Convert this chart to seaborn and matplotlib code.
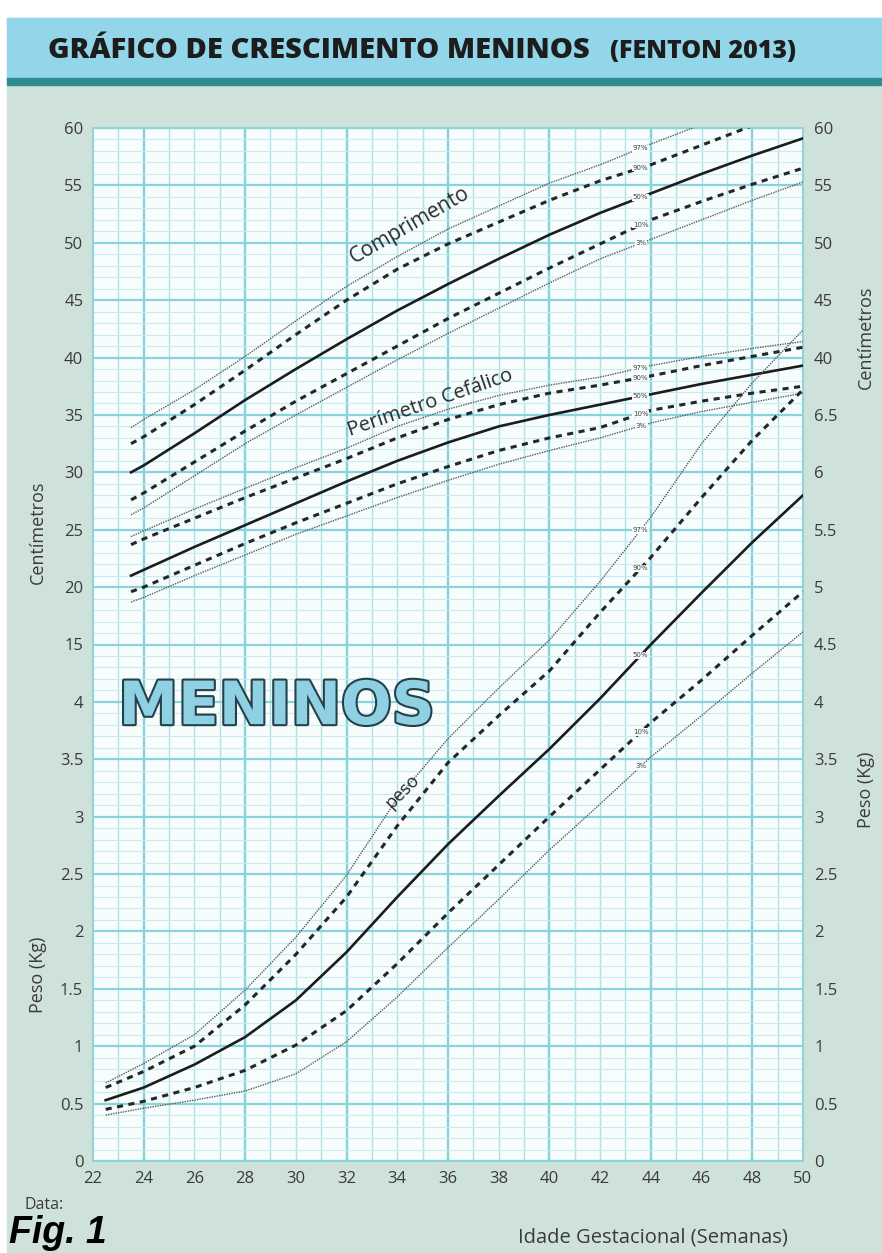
import numpy as np
import pandas as pd
import seaborn as sns
import matplotlib.pyplot as plt
import matplotlib.patheffects as pe
from matplotlib.patches import Rectangle

# Values (boys)

semanas_cc = [23.5, 24, 26, 28, 30, 32, 34, 36, 38, 40, 42, 44, 46, 48, 50]
comp_97 = [33.9, 34.6, 37.2, 40.1, 43.2, 46.2, 48.8, 51.2, 53.2, 55.2, 56.8, 58.6, 60.3, 61.8, 63.2]
comp_90 = [32.5, 33.1, 35.9, 38.9, 42.0, 45.0, 47.7, 49.9, 51.8, 53.7, 55.4, 56.8, 58.5, 60.2, 61.8]
comp_50 = [30.0, 30.6, 33.4, 36.3, 39.0, 41.6, 44.1, 46.4, 48.6, 50.7, 52.6, 54.3, 56.0, 57.6, 59.1]
comp_10 = [27.6, 28.2, 30.9, 33.6, 36.2, 38.6, 41.0, 43.4, 45.6, 47.8, 49.9, 52.0, 53.6, 55.1, 56.5]
comp_3 = [26.3, 26.9, 29.7, 32.5, 35.0, 37.4, 39.8, 42.1, 44.3, 46.5, 48.6, 50.3, 52.0, 53.7, 55.3]

pc_97 = [24.4, 24.9, 26.8, 28.6, 30.4, 32.1, 34.0, 35.5, 36.7, 37.6, 38.3, 39.3, 40.1, 40.8, 41.4]
pc_90 = [23.7, 24.2, 26.0, 27.8, 29.5, 31.2, 33.0, 34.6, 35.9, 36.9, 37.6, 38.4, 39.3, 40.1, 40.9]
pc_50 = [21.0, 21.5, 23.5, 25.4, 27.3, 29.2, 31.0, 32.6, 34.0, 35.0, 35.9, 36.8, 37.7, 38.5, 39.3]
pc_10 = [19.6, 20.0, 21.9, 23.8, 25.6, 27.3, 29.0, 30.5, 31.9, 33.0, 33.9, 35.4, 36.2, 36.9, 37.5]
pc_3 = [18.7, 19.1, 21.0, 22.8, 24.6, 26.2, 27.8, 29.3, 30.7, 31.9, 33.0, 34.3, 35.3, 36.1, 36.9]

semanas_peso = [22.5, 24, 26, 28, 30, 32, 34, 36, 38, 40, 42, 44, 46, 48, 50]
peso_97 = [0.68, 0.85, 1.10, 1.49, 1.95, 2.49, 3.16, 3.68, 4.12, 4.54, 5.05, 5.61, 6.25, 6.78, 7.24]
peso_90 = [0.64, 0.78, 1.00, 1.36, 1.80, 2.30, 2.92, 3.47, 3.88, 4.27, 4.78, 5.26, 5.78, 6.28, 6.72]
peso_50 = [0.53, 0.64, 0.84, 1.08, 1.40, 1.82, 2.30, 2.76, 3.18, 3.59, 4.03, 4.50, 4.95, 5.39, 5.80]
peso_10 = [0.45, 0.52, 0.64, 0.79, 1.01, 1.31, 1.72, 2.16, 2.58, 3.00, 3.41, 3.82, 4.19, 4.58, 4.96]
peso_3 = [0.40, 0.46, 0.53, 0.61, 0.76, 1.04, 1.43, 1.86, 2.28, 2.71, 3.11, 3.52, 3.88, 4.25, 4.61]

percentis = ['97%', '90%', '50%', '10%', '3%']

x_ticks = list(range(22, 51, 2))
y_labels_esq = ['0', '0.5', '1', '1.5', '2', '2.5', '3', '3.5', '4',
                '15', '20', '25', '30', '35', '40', '45', '50', '55', '60']
y_labels_dir = ['0', '0.5', '1', '1.5', '2', '2.5', '3', '3.5', '4', '4.5',
                '5', '5.5', '6', '6.5', '40', '45', '50', '55', '60']


# one shared grid on the chart: kg*2 below, (cm/5 + 6) above
def cm_para_u(v):
    return np.array(v) / 5 + 6


def kg_para_u(v):
    return np.array(v) * 2


def tabela(semanas, series, conv):
    partes = []
    for p, vals in zip(percentis, series):
        partes.append(pd.DataFrame({'semana': semanas, 'u': conv(vals), 'pct': p}))
    return pd.concat(partes, ignore_index=True)


grupos = [(semanas_cc, [comp_97, comp_90, comp_50, comp_10, comp_3], cm_para_u),
          (semanas_cc, [pc_97, pc_90, pc_50, pc_10, pc_3], cm_para_u),
          (semanas_peso, [peso_97, peso_90, peso_50, peso_10, peso_3], kg_para_u)]

cores = {'97%': '#5a5a5a', '90%': '#262626', '50%': '#1c1c1c', '10%': '#262626', '3%': '#5a5a5a'}
larguras = {'97%': 1.0, '90%': 2.2, '50%': 1.9, '10%': 2.2, '3%': 1.0}
tracos = {'97%': (1, 0.8), '90%': (2, 1.8), '50%': '', '10%': (2, 1.8), '3%': (1, 0.8)}

fonte = 'Open Sans'
cinza = '#3a3a3a'

fig = plt.figure(figsize=(8.82, 12.53), dpi=100)
fig.patch.set_facecolor('white')
W, H = 882, 1253

# background and title banner
fig.add_artist(Rectangle((7 / W, 0), 1, 1 - 18 / H, transform=fig.transFigure,
                         color='#cfe2da', zorder=-10))
fig.add_artist(Rectangle((7 / W, 1 - 78 / H), 1, 60 / H, transform=fig.transFigure,
                         color='#93d5e9', zorder=-9))
fig.add_artist(Rectangle((7 / W, 1 - 85 / H), 1, 7 / H, transform=fig.transFigure,
                         color='#2e8d8f', zorder=-9))

ax = fig.add_axes([93 / W, 1 - 1161 / H, 710 / W, 1033 / H])
ax.set_facecolor('#f7fcfc')

# grid paper
for w in range(23, 50):
    grossa = (w % 4 == 0)
    ax.axvline(w, color='#84d2dc' if grossa else '#b0e0e8', lw=1.7 if grossa else 1.0, zorder=0)
for k in range(0, 91):
    v = k / 5
    if k % 5 == 0:
        ax.axhline(v, color='#8ad3dd', lw=1.6, zorder=0)
    else:
        ax.axhline(v, color='#c8eaf0', lw=0.8, zorder=0)

for semanas, series, conv in grupos:
    df = tabela(semanas, series, conv)
    sns.lineplot(data=df, x='semana', y='u', hue='pct', size='pct', style='pct',
                 palette=cores, sizes=larguras, dashes=tracos, legend=False, ax=ax, zorder=3)

# percentile labels sitting on the curves
x_rot = 43.6
for semanas, series, conv in grupos:
    for p, vals in zip(percentis, series):
        yv = np.interp(x_rot, semanas, conv(vals))
        if yv < 18:
            ax.text(x_rot, yv, p, fontsize=5, color='#444444', ha='center', va='center', zorder=5,
                    bbox=dict(fc='#f7fcfc', ec='none', pad=0.4))

ax.text(34.5, 16.3, 'Comprimento', family=fonte, fontsize=15, color='#2a2a2a',
        rotation=30, ha='center', va='center', rotation_mode='anchor')
ax.text(35.3, 13.2, 'Perímetro Cefálico', family=fonte, fontsize=14.5, color='#2a2a2a',
        rotation=19, ha='center', va='center', rotation_mode='anchor')
ax.text(34.2, 6.45, 'peso', family=fonte, fontsize=13, color='#2a2a2a',
        rotation=45, ha='center', va='center', rotation_mode='anchor')
ax.text(29.25, 7.9, 'MENINOS', family='DejaVu Sans', fontweight='bold', fontsize=43,
        color='#8fd0e3', ha='center', va='center', zorder=4,
        path_effects=[pe.Stroke(linewidth=3, foreground='#24414a'), pe.Normal()])

ax.set_xlim(22, 50)
ax.set_ylim(0, 18)
ax.set_xticks(x_ticks)
ax.set_xticklabels([str(t) for t in x_ticks], family=fonte, fontsize=12, color=cinza)
ax.set_yticks(range(19))
ax.set_yticklabels(y_labels_esq, family=fonte, fontsize=12, color=cinza)
ax.tick_params(axis='both', length=0)
ax.tick_params(axis='x', pad=7)
ax.tick_params(axis='y', pad=7)
ax.set_xlabel('')
ax.set_ylabel('')
for s in ax.spines.values():
    s.set_color('#8fd3dd')
    s.set_linewidth(1.5)

ax2 = ax.twinx()
ax2.set_ylim(0, 18)
ax2.set_yticks(range(19))
ax2.set_yticklabels(y_labels_dir, family=fonte, fontsize=12, color=cinza)
ax2.tick_params(axis='y', length=0, pad=8)
for s in ax2.spines.values():
    s.set_visible(False)

# titles and side labels
fig.text(48 / W, 1 - 50 / H, 'GRÁFICO DE CRESCIMENTO MENINOS', family=fonte, fontweight='heavy',
         fontsize=21, color='#1d1d1d', ha='left', va='center')
fig.text(610 / W, 1 - 52 / H, '(FENTON 2013)', family=fonte, fontweight='heavy',
         fontsize=18, color='#1d1d1d', ha='left', va='center')

fig.text(38 / W, 1 - 532 / H, 'Centímetros', family=fonte, fontsize=13, color=cinza,
         rotation=90, ha='center', va='center')
fig.text(38 / W, 1 - 975 / H, 'Peso (Kg)', family=fonte, fontsize=13, color=cinza,
         rotation=90, ha='center', va='center')
fig.text(866 / W, 1 - 337 / H, 'Centímetros', family=fonte, fontsize=13, color=cinza,
         rotation=90, ha='center', va='center')
fig.text(866 / W, 1 - 790 / H, 'Peso (Kg)', family=fonte, fontsize=13, color=cinza,
         rotation=90, ha='center', va='center')

fig.text(653 / W, 1 - 1237 / H, 'Idade Gestacional (Semanas)', family=fonte, fontsize=14.5,
         color=cinza, ha='center', va='center')
fig.text(25 / W, 1 - 1205 / H, 'Data:', family=fonte, fontsize=11.5, color=cinza,
         ha='left', va='center')
fig.text(9 / W, 1 - 1243 / H, 'Fig. 1', family='Liberation Sans', fontweight='bold',
         fontstyle='italic', fontsize=27, color='black', ha='left', va='baseline')

plt.savefig('out.png', dpi=100, facecolor=fig.get_facecolor())
